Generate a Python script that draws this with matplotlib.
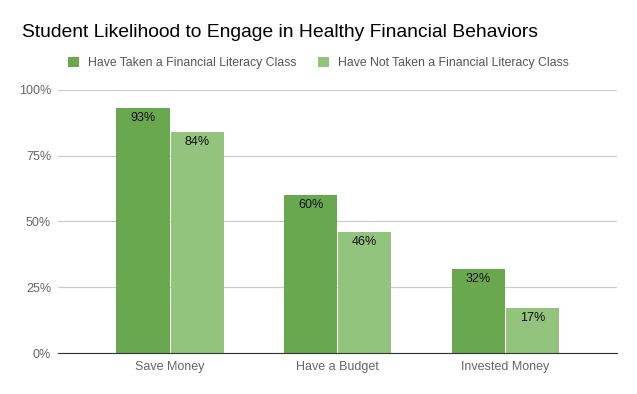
import matplotlib.pyplot as plt
import numpy as np

plt.rcParams['font.family'] = ['Liberation Sans', 'DejaVu Sans']

categories = ['Save Money', 'Have a Budget', 'Invested Money']
taken = [93, 60, 32]
not_taken = [84, 46, 17]
series_names = ['Have Taken a Financial Literacy Class', 'Have Not Taken a Financial Literacy Class']
colors = ['#6aa84f', '#93c47d']

fig = plt.figure(figsize=(6.37, 3.94), dpi=100)
ax = fig.add_axes([0.091, 0.104, 0.878, 0.668])

x = np.arange(len(categories))
w = 0.317
b1 = ax.bar(x - w / 2 - 0.003, taken, w, color=colors[0], label=series_names[0])
b2 = ax.bar(x + w / 2 + 0.003, not_taken, w, color=colors[1], label=series_names[1])

for bars, vals in [(b1, taken), (b2, not_taken)]:
    for r, v in zip(bars, vals):
        ax.text(r.get_x() + r.get_width() / 2, v - 1.5, f'{v}%', ha='center', va='top',
                fontsize=9, color='#111111')

ax.set_xlim(-0.669, 2.669)
ax.set_ylim(0, 100)
ax.set_yticks([0, 25, 50, 75, 100])
ax.set_yticklabels(['0%', '25%', '50%', '75%', '100%'])
ax.set_xticks(x)
ax.set_xticklabels(categories)
ax.tick_params(axis='both', length=0, colors='#666666', labelsize=9)
ax.tick_params(axis='y', pad=5)
ax.tick_params(axis='x', pad=6)
ax.grid(axis='y', color='#cccccc', linewidth=0.9)
ax.set_axisbelow(True)
for s in ['top', 'right', 'left']:
    ax.spines[s].set_visible(False)
ax.spines['bottom'].set_color('#333333')
ax.spines['bottom'].set_zorder(3)

fig.text(0.035, 0.918, 'Student Likelihood to Engage in Healthy Financial Behaviors',
         fontsize=13.9, color='#000000', va='center', ha='left')
fig.legend(handles=[b1, b2], loc='center', bbox_to_anchor=(0.5, 0.84), ncol=2, frameon=False,
           fontsize=8.8, labelcolor='#555555', handlelength=0.9, handleheight=0.9,
           handletextpad=0.7, columnspacing=1.8)

fig.savefig('out.png', dpi=100)
